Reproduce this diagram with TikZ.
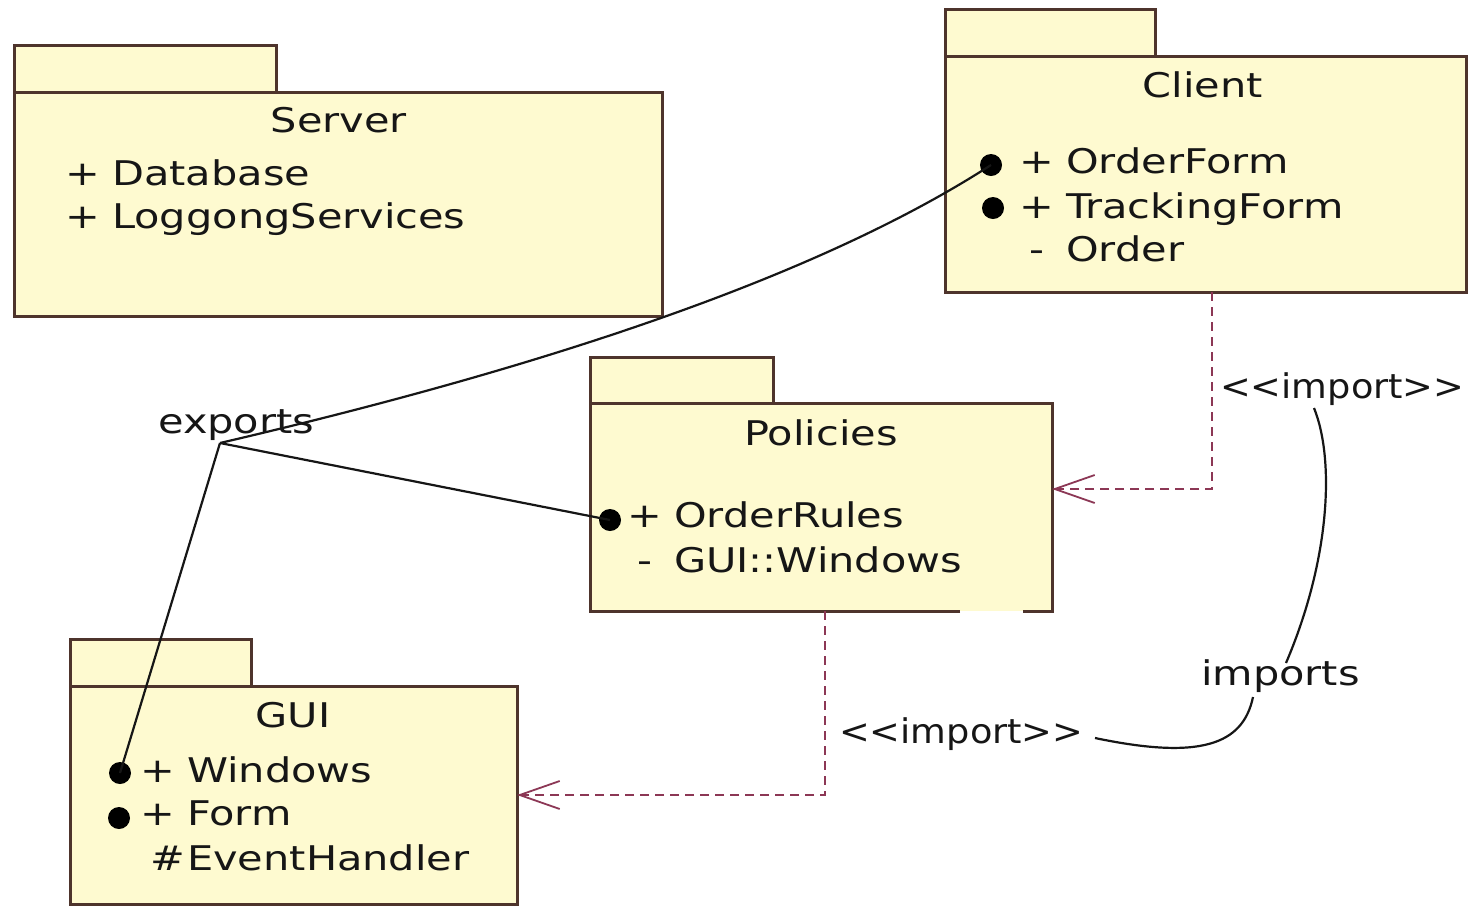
\documentclass[tikz,border=0pt]{standalone}
\usepackage{fontspec}
\setmainfont[FakeStretch=1.22]{DejaVu Sans}
\usepackage{graphicx}
\usetikzlibrary{arrows.meta}

\definecolor{pkgfill}{RGB}{254,250,208}
\definecolor{pkgedge}{RGB}{78,52,44}
\definecolor{deplink}{RGB}{140,55,85}
\definecolor{ink}{RGB}{22,22,22}

\tikzset{
  pkgbody/.style={fill=pkgfill, draw=pkgedge, line width=3pt, anchor=north west, inner sep=0pt, outer sep=0pt},
  pkgplain/.style={fill=pkgfill, anchor=north west, inner sep=0pt, outer sep=0pt},
  pkgedgeline/.style={draw=pkgedge, line width=3pt},
  pkgtab/.style={fill=pkgfill, draw=pkgedge, line width=3pt},
  txt/.style={font=\fontsize{34}{40}\selectfont, inner sep=0pt, text=ink},
  pkgtitle/.style={txt, anchor=base},
  member/.style={txt, anchor=base west},
  expmark/.style={circle, fill=black, minimum size=22pt, inner sep=0pt},
  exportline/.style={draw=ink, line width=2.2pt},
  importdep/.style={draw=deplink, line width=2.2pt, dash pattern=on 9pt off 6pt,
    -{Straight Barb[length=40pt, width=28pt, line width=1.8pt]}},
  noteline/.style={draw=ink, line width=2.2pt},
}
% visibility marker column in front of a member name
\newcommand\vis[1]{\makebox[30pt][c]{#1}\hspace{14pt}}
\newcommand\narrow[1]{\scalebox{0.885}[1]{#1}}

\begin{document}
\begin{tikzpicture}[x=1pt, y=-1pt]
\fill[white] (0,0) rectangle (1476,906);
\useasboundingbox (0,0) rectangle (1476,906);

% ---------- Server ----------
\draw[pkgtab] (14,45) rectangle (276,92);
\node[pkgbody, minimum width=648pt, minimum height=224pt] (server) at (14,92) {};
\node[pkgtitle] (servert) at (339,132) {Server};
\node[member] (srv1) at (68,185) {\vis{+}Database};
\node[member] (srv2) at (68,228) {\vis{+}LoggongServices};

% ---------- Client ----------
\draw[pkgtab] (945,9) rectangle (1155,56);
\node[pkgbody, minimum width=521pt, minimum height=236pt] (client) at (945,56) {};
\node[pkgtitle] (clientt) at (1203,97) {Client};
\node[member] (cl1) at (1022,173) {\vis{+}OrderForm};
\node[member] (cl2) at (1022,218) {\vis{+}TrackingForm};
\node[member] (cl3) at (1022,261) {\vis{-}Order};

% ---------- Policies ----------
\draw[pkgtab] (590,357) rectangle (773,403);
\node[pkgplain, minimum width=462pt, minimum height=208pt] (pol) at (590,403) {};
\draw[pkgedgeline] (960,611) -- (pol.south west) -- (pol.north west)
  -- (pol.north east) -- (pol.south east) -- (1023,611);
\node[pkgtitle] (polt) at (821,445) {Policies};
\node[member] (po1) at (630,527) {\vis{+}OrderRules};
\node[member] (po2) at (630,572) {\vis{-}GUI::Windows};

% ---------- GUI ----------
\draw[pkgtab] (70,639) rectangle (251,686);
\node[pkgbody, minimum width=447pt, minimum height=218pt] (gui) at (70,686) {};
\node[pkgtitle] (guit) at (293,727) {GUI};
\node[member] (gu1) at (143,782) {\vis{+}Windows};
\node[member] (gu2) at (143,825) {\vis{+}Form};
\node[member] (gu3) at (153,870) {\makebox[30pt][c]{\#}\hspace{4pt}EventHandler};

% ---------- exported element markers ----------
\node[expmark] (ofb) at (991,165) {};
\node[expmark] (tfb) at (993,208) {};
\node[expmark] (orb) at (610,520) {};
\node[expmark] (wb)  at (120,773) {};
\node[expmark] (fb)  at (119,818) {};

% ---------- exports links ----------
\coordinate (jn) at (220,443);
\node[member] (exl) at (158,433) {exports};
\draw[exportline] (jn) .. controls (572,361) and (830,269) .. (ofb.center);
\draw[exportline] (jn) -- (orb.center);
\draw[exportline] (jn) -- (wb.center);

% ---------- import dependencies ----------
\coordinate (ci) at (1212,292);
\coordinate (pi) at (825,611);
\draw[importdep] (ci) |- ([yshift=18pt]pol.east);
\draw[importdep] (pi) |- (gui.east);

\node[member] (imp1) at (1220,398) {\narrow{<{}<import>{}>}};
\node[member] (imp2) at (839,743) {\narrow{<{}<import>{}>}};
\node[member] (imps) at (1201,685) {imports};

% ---------- note lines joining the labels ----------
\coordinate (n1) at (1314,408);
\coordinate (n2) at (1286,663);
\coordinate (n3) at (1253,697);
\coordinate (n4) at (1095,738);
\draw[noteline] (n1) .. controls (1335,460) and (1330,560) .. (n2);
\draw[noteline] (n3) .. controls (1243,745) and (1200,760) .. (n4);
\end{tikzpicture}
\end{document}
